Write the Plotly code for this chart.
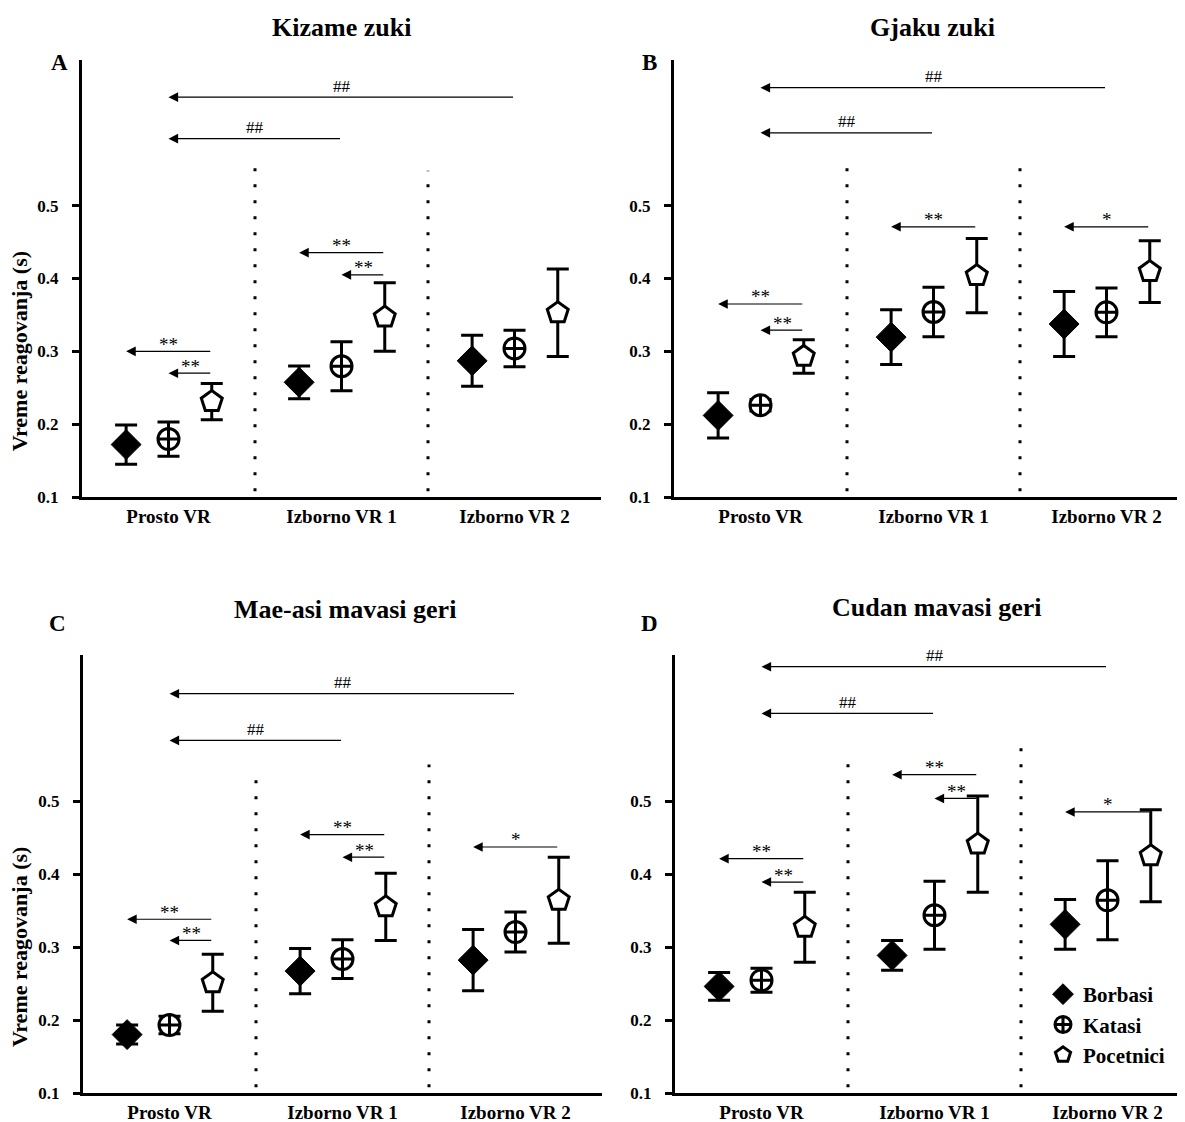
import plotly.graph_objects as go

# ---------------- data ----------------
categories = ["Prosto VR", "Izborno VR 1", "Izborno VR 2"]
groups = ["Borbasi", "Katasi", "Pocetnici"]
panel_titles = ["Kizame zuki", "Gjaku zuki", "Mae-asi mavasi geri", "Cudan mavasi geri"]
panel_letters = ["A", "B", "C", "D"]
y_tick_vals = [0.1, 0.2, 0.3, 0.4, 0.5]
y_tick_text = ["0.1", "0.2", "0.3", "0.4", "0.5"]
y_title = "Vreme reagovanja (s)"

# Panel A - Kizame zuki
a_borbasi = [0.172, 0.2575, 0.287]
a_borbasi_err = [0.027, 0.0225, 0.035]
a_katasi = [0.1795, 0.2795, 0.304]
a_katasi_err = [0.0235, 0.0335, 0.025]
a_pocetnici = [0.231, 0.347, 0.353]
a_pocetnici_err = [0.025, 0.047, 0.060]

# Panel B - Gjaku zuki
b_borbasi = [0.212, 0.3195, 0.3375]
b_borbasi_err = [0.031, 0.0375, 0.0445]
b_katasi = [0.226, 0.354, 0.3535]
b_katasi_err = [0.008, 0.034, 0.0335]
b_pocetnici = [0.293, 0.404, 0.4095]
b_pocetnici_err = [0.023, 0.051, 0.0425]

# Panel C - Mae-asi mavasi geri
c_borbasi = [0.180, 0.267, 0.282]
c_borbasi_err = [0.013, 0.031, 0.042]
c_katasi = [0.193, 0.2835, 0.3205]
c_katasi_err = [0.012, 0.0265, 0.0275]
c_pocetnici = [0.251, 0.355, 0.364]
c_pocetnici_err = [0.039, 0.046, 0.059]

# Panel D - Cudan mavasi geri
d_borbasi = [0.246, 0.2885, 0.331]
d_borbasi_err = [0.019, 0.0205, 0.034]
d_katasi = [0.2545, 0.3435, 0.364]
d_katasi_err = [0.0165, 0.0465, 0.054]
d_pocetnici = [0.327, 0.441, 0.425]
d_pocetnici_err = [0.048, 0.066, 0.063]

# significance comparisons: (label, level, (category_from, group_from), (category_to, group_to))
a_signif = [
    ("##", 0.649, (2, None), (0, None)),
    ("##", 0.592, (1, None), (0, None)),
    ("**", 0.300, (0, "Pocetnici"), (0, "Borbasi")),
    ("**", 0.270, (0, "Pocetnici"), (0, "Katasi")),
    ("**", 0.4355, (1, "Pocetnici"), (1, "Borbasi")),
    ("**", 0.405, (1, "Pocetnici"), (1, "Katasi")),
]
b_signif = [
    ("##", 0.662, (2, None), (0, None)),
    ("##", 0.600, (1, None), (0, None)),
    ("**", 0.365, (0, "Pocetnici"), (0, "Borbasi")),
    ("**", 0.329, (0, "Pocetnici"), (0, "Katasi")),
    ("**", 0.471, (1, "Pocetnici"), (1, "Borbasi")),
    ("*", 0.471, (2, "Pocetnici"), (2, "Borbasi")),
]
c_signif = [
    ("##", 0.647, (2, None), (0, None)),
    ("##", 0.583, (1, None), (0, None)),
    ("**", 0.338, (0, "Pocetnici"), (0, "Borbasi")),
    ("**", 0.309, (0, "Pocetnici"), (0, "Katasi")),
    ("**", 0.454, (1, "Pocetnici"), (1, "Borbasi")),
    ("**", 0.423, (1, "Pocetnici"), (1, "Katasi")),
    ("*", 0.437, (2, "Pocetnici"), (2, "Borbasi")),
]
d_signif = [
    ("##", 0.684, (2, None), (0, None)),
    ("##", 0.620, (1, None), (0, None)),
    ("**", 0.421, (0, "Pocetnici"), (0, "Borbasi")),
    ("**", 0.389, (0, "Pocetnici"), (0, "Katasi")),
    ("**", 0.536, (1, "Pocetnici"), (1, "Borbasi")),
    ("**", 0.5035, (1, "Pocetnici"), (1, "Katasi")),
    ("*", 0.485, (2, "Pocetnici"), (2, "Borbasi")),
]

# ---------------- figure ----------------
PAGE_OFF = 8            # default body margin of the html page
W, H = 1185 - PAGE_OFF, 1122 - PAGE_OFF
FONT = "Liberation Serif"


def fx(page_x):
    return (page_x - PAGE_OFF) / W


def fy(page_y):
    return 1 - (page_y - PAGE_OFF) / H


panels = [
    dict(means=[a_borbasi, a_katasi, a_pocetnici], errs=[a_borbasi_err, a_katasi_err, a_pocetnici_err], signif=a_signif),
    dict(means=[b_borbasi, b_katasi, b_pocetnici], errs=[b_borbasi_err, b_katasi_err, b_pocetnici_err], signif=b_signif),
    dict(means=[c_borbasi, c_katasi, c_pocetnici], errs=[c_borbasi_err, c_katasi_err, c_pocetnici_err], signif=c_signif),
    dict(means=[d_borbasi, d_katasi, d_pocetnici], errs=[d_borbasi_err, d_katasi_err, d_pocetnici_err], signif=d_signif),
]

# page-pixel layout of each panel: x-left, x-right, y(top of axis), y(bottom axis)
px_layout = [
    (82, 601, 60, 497),
    (674, 1185, 60, 497),
    (83, 602, 655, 1093),
    (675, 1185, 655, 1093),
]
title_px = [(341, 28), (932, 28), (345, 609), (936, 607)]
letter_px = [(59, 62), (649, 62), (57, 623), (649, 623)]
divider_tops = [(0.552, 0.548), (0.566, 0.568), (0.545, 0.550), (0.564, 0.588)]

offsets = {"Borbasi": -0.245, "Katasi": 0.0, "Pocetnici": 0.25, None: 0.0}
symbols = {
    "Borbasi": dict(symbol="diamond", size=23, color="black", line=dict(color="black", width=1)),
    "Katasi": dict(symbol="circle-cross", size=21, color="white", line=dict(color="black", width=3)),
    "Pocetnici": dict(symbol="pentagon", size=22, color="white", line=dict(color="black", width=3)),
}

fig = go.Figure()
annotations = []
shapes = []
layout_axes = {}

for k, panel in enumerate(panels):
    idx = k + 1
    xa = "x" if idx == 1 else f"x{idx}"
    ya = "y" if idx == 1 else f"y{idx}"
    xl, xr, yt, yb = px_layout[k]
    xrange_right = -0.5 + (xr - xl) / 173.0
    for g, grp in enumerate(groups):
        xs = [i + offsets[grp] for i in range(len(categories))]
        fig.add_trace(go.Scatter(
            x=xs, y=panel["means"][g], mode="markers", name=grp,
            legendgroup=grp, showlegend=(k == 0),
            marker=symbols[grp],
            error_y=dict(type="data", array=panel["errs"][g], visible=True,
                         color="black", thickness=3, width=11),
            xaxis=xa, yaxis=ya, hoverinfo="skip",
        ))
    xkey = "xaxis" if idx == 1 else f"xaxis{idx}"
    ykey = "yaxis" if idx == 1 else f"yaxis{idx}"
    layout_axes[xkey] = dict(
        domain=[fx(xl), min(fx(xr), 1.0)], range=[-0.5, xrange_right], anchor=ya,
        automargin=False,
        showline=True, linecolor="black", linewidth=3, showgrid=False, zeroline=False,
        tickvals=[0, 1, 2], ticktext=categories, ticks="",
        tickfont=dict(family=FONT, size=19, color="black", weight="bold"),
    )
    layout_axes[ykey] = dict(
        domain=[fy(yb), fy(yt)], range=[0.1, 0.7], anchor=xa,
        automargin=False,
        showline=True, linecolor="black", linewidth=3, showgrid=False, zeroline=False,
        tickvals=y_tick_vals, ticktext=y_tick_text, ticks="outside", ticklen=7,
        tickwidth=3, tickcolor="black", ticklabelstandoff=10,
        tickfont=dict(family=FONT, size=17, color="black", weight="bold"),
    )
    # dotted dividers
    for j, xd in enumerate([0.5, 1.5]):
        shapes.append(dict(type="line", xref=xa, yref=ya, x0=xd, x1=xd, y0=0.108,
                           y1=divider_tops[k][j],
                           line=dict(color="black", width=3, dash="3px,13px")))
    # significance arrows
    for label, lvl, (cf, gf), (ct, gt) in panel["signif"]:
        x_tail = cf + offsets[gf]
        x_head = ct + offsets[gt]
        annotations.append(dict(
            x=x_head, y=lvl, ax=x_tail, ay=lvl, xref=xa, yref=ya, axref=xa, ayref=ya,
            text="", showarrow=True, arrowhead=2, arrowsize=1.6, arrowwidth=1.2,
            arrowcolor="black", standoff=0, startstandoff=0,
        ))
        is_hash = label.startswith("#")
        annotations.append(dict(
            x=(x_tail + x_head) / 2, y=lvl, xref=xa, yref=ya, text=label,
            showarrow=False, xanchor="center", yanchor="middle",
            yshift=11 if is_hash else 7,
            font=dict(family=FONT, size=17 if is_hash else 19, color="black"),
        ))
    # title
    tx, ty = title_px[k]
    annotations.append(dict(x=fx(tx), y=fy(ty), xref="paper", yref="paper",
                            xanchor="center", yanchor="middle",
                            text=panel_titles[k], showarrow=False,
                            font=dict(family=FONT, size=26, color="black", weight="bold")))
    lx, ly = letter_px[k]
    annotations.append(dict(x=fx(lx), y=fy(ly), xref="paper", yref="paper",
                            xanchor="center", yanchor="middle",
                            text=panel_letters[k], showarrow=False,
                            font=dict(family=FONT, size=23, color="black", weight="bold")))
    if k in (0, 2):
        annotations.append(dict(x=fx(19), y=0.3, xref="paper", yref=ya,
                                xanchor="center", yanchor="middle",
                                text=y_title, textangle=-90, showarrow=False,
                                font=dict(family=FONT, size=22, color="black", weight="bold")))

fig.update_layout(
    width=W, height=H, margin=dict(l=0, r=0, t=0, b=0, autoexpand=False),
    paper_bgcolor="white", plot_bgcolor="white",
    annotations=annotations, shapes=shapes,
    legend=dict(x=fx(1043), y=fy(974), xanchor="left", yanchor="top",
                font=dict(family=FONT, size=21, color="black", weight="bold"),
                bgcolor="rgba(0,0,0,0)", tracegroupgap=0, traceorder="grouped"),
    **layout_axes,
)

fig.write_html("out.html")
